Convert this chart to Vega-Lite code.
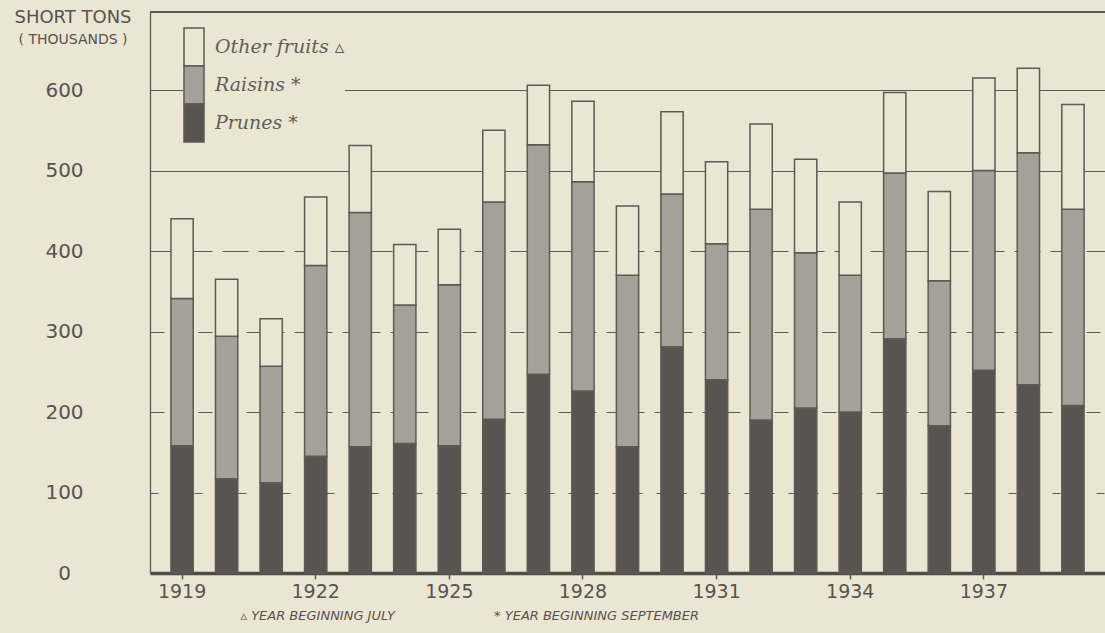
{
  "$schema": "https://vega.github.io/schema/vega-lite/v6.json",
  "width": 955,
  "height": 561,
  "autosize": {"type": "none"},
  "padding": {"left": 150, "top": 12, "right": 0, "bottom": 60},
  "background": "#ebe5d3",
  "config": {"view": {"stroke": null}, "font": "DejaVu Sans"},
  "title": {
    "text": "SHORT TONS",
    "subtitle": "( THOUSANDS )",
    "anchor": "start",
    "frame": "group",
    "align": "center",
    "dx": -77,
    "dy": 36,
    "offset": 0,
    "font": "DejaVu Sans",
    "fontSize": 18,
    "fontWeight": "normal",
    "color": "#57534f",
    "subtitleFont": "DejaVu Sans",
    "subtitleFontSize": 14,
    "subtitleColor": "#57534f",
    "subtitlePadding": 6
  },
  "data": {
    "values": [
      {"year": 1919, "prunes": 158, "raisins": 183, "other": 99},
      {"year": 1920, "prunes": 117, "raisins": 177, "other": 71},
      {"year": 1921, "prunes": 112, "raisins": 145, "other": 59},
      {"year": 1922, "prunes": 145, "raisins": 237, "other": 85},
      {"year": 1923, "prunes": 157, "raisins": 291, "other": 83},
      {"year": 1924, "prunes": 161, "raisins": 172, "other": 75},
      {"year": 1925, "prunes": 158, "raisins": 200, "other": 69},
      {"year": 1926, "prunes": 191, "raisins": 270, "other": 89},
      {"year": 1927, "prunes": 247, "raisins": 285, "other": 74},
      {"year": 1928, "prunes": 226, "raisins": 260, "other": 100},
      {"year": 1929, "prunes": 157, "raisins": 213, "other": 86},
      {"year": 1930, "prunes": 281, "raisins": 190, "other": 102},
      {"year": 1931, "prunes": 240, "raisins": 169, "other": 102},
      {"year": 1932, "prunes": 190, "raisins": 262, "other": 106},
      {"year": 1933, "prunes": 205, "raisins": 193, "other": 116},
      {"year": 1934, "prunes": 200, "raisins": 170, "other": 91},
      {"year": 1935, "prunes": 291, "raisins": 206, "other": 100},
      {"year": 1936, "prunes": 183, "raisins": 180, "other": 111},
      {"year": 1937, "prunes": 252, "raisins": 248, "other": 115},
      {"year": 1938, "prunes": 234, "raisins": 288, "other": 105},
      {"year": 1939, "prunes": 208, "raisins": 244, "other": 130}
    ]
  },
  "layer": [
    {
      "transform": [
        {"fold": ["prunes", "raisins", "other"], "as": ["fruit", "tons"]},
        {"calculate": "indexof(['prunes','raisins','other'], datum.fruit)", "as": "stackorder"}
      ],
      "mark": {"type": "bar", "stroke": "#5d5a55", "strokeWidth": 1.5},
      "encoding": {
        "x": {
          "field": "year",
          "type": "ordinal",
          "scale": {"paddingInner": 0.5, "paddingOuter": 0.47},
          "axis": {
            "title": "▵ YEAR BEGINNING JULY\u00a0\u00a0\u00a0\u00a0\u00a0\u00a0\u00a0\u00a0\u00a0\u00a0\u00a0\u00a0\u00a0\u00a0\u00a0\u00a0\u00a0\u00a0\u00a0\u00a0\u00a0\u00a0\u00a0\u00a0* YEAR BEGINNING SEPTEMBER",
            "values": [1919, 1922, 1925, 1928, 1931, 1934, 1937],
            "labelAngle": 0,
            "labelFontSize": 19,
            "labelColor": "#57534f",
            "labelPadding": 3,
            "tickSize": 6,
            "tickColor": "#5d5a55",
            "tickWidth": 1.5,
            "domainColor": "#4f4c48",
            "domainWidth": 3.5,
            "titleFontSize": 13,
            "titleFontStyle": "italic",
            "titleFontWeight": "normal",
            "titleColor": "#57534f",
            "titleAnchor": "start",
            "titleAlign": "left",
            "titleX": 90,
            "titleY": 42,
            "titleBaseline": "middle"
          }
        },
        "y": {
          "field": "tons",
          "type": "quantitative",
          "stack": "zero",
          "scale": {"domain": [0, 697], "nice": false},
          "axis": {
            "title": null,
            "values": [0, 100, 200, 300, 400, 500, 600],
            "ticks": false,
            "labelAlign": "center",
            "labelBaseline": "middle",
            "labelPadding": 86,
            "labelFontSize": 20,
            "labelColor": "#57534f",
            "domainColor": "#5d5a55",
            "domainWidth": 1.3,
            "grid": true,
            "gridColor": "#5d5a55",
            "gridWidth": 1.2,
            "gridDash": {
              "condition": [
                {"test": "datum.value >= 500", "value": []},
                {"test": "datum.value == 400", "value": [26, 10]},
                {"test": "datum.value == 100", "value": [8, 14]}
              ],
              "value": [14, 10]
            }
          }
        },
        "color": {
          "field": "fruit",
          "type": "nominal",
          "scale": {"domain": ["other", "raisins", "prunes"], "range": ["#ebe5d3", "#a5a098", "#58544f"]},
          "legend": {
            "orient": "none",
            "legendX": 33,
            "legendY": 24,
            "title": null,
            "symbolType": "M-1,-1.9H1V1.9H-1Z",
            "symbolSize": 400,
            "symbolOpacity": 1,
            "symbolStrokeColor": "#5d5a55",
            "symbolStrokeWidth": 1.5,
            "labelFont": "DejaVu Serif",
            "labelFontStyle": "italic",
            "labelFontSize": 19,
            "labelColor": "#615d58",
            "labelOffset": 10,
            "rowPadding": -6,
            "padding": 0,
            "fillColor": "#ebe5d3",
            "labelExpr": "datum.label == 'other' ? 'Other fruits ▵' : datum.label == 'raisins' ? 'Raisins *' : 'Prunes *'"
          }
        },
        "order": {"field": "stackorder", "type": "quantitative"}
      }
    },
    {
      "mark": {"type": "rule", "color": "#5d5a55", "strokeWidth": 1.3},
      "encoding": {"y": {"datum": 697, "type": "quantitative"}}
    }
  ]
}
